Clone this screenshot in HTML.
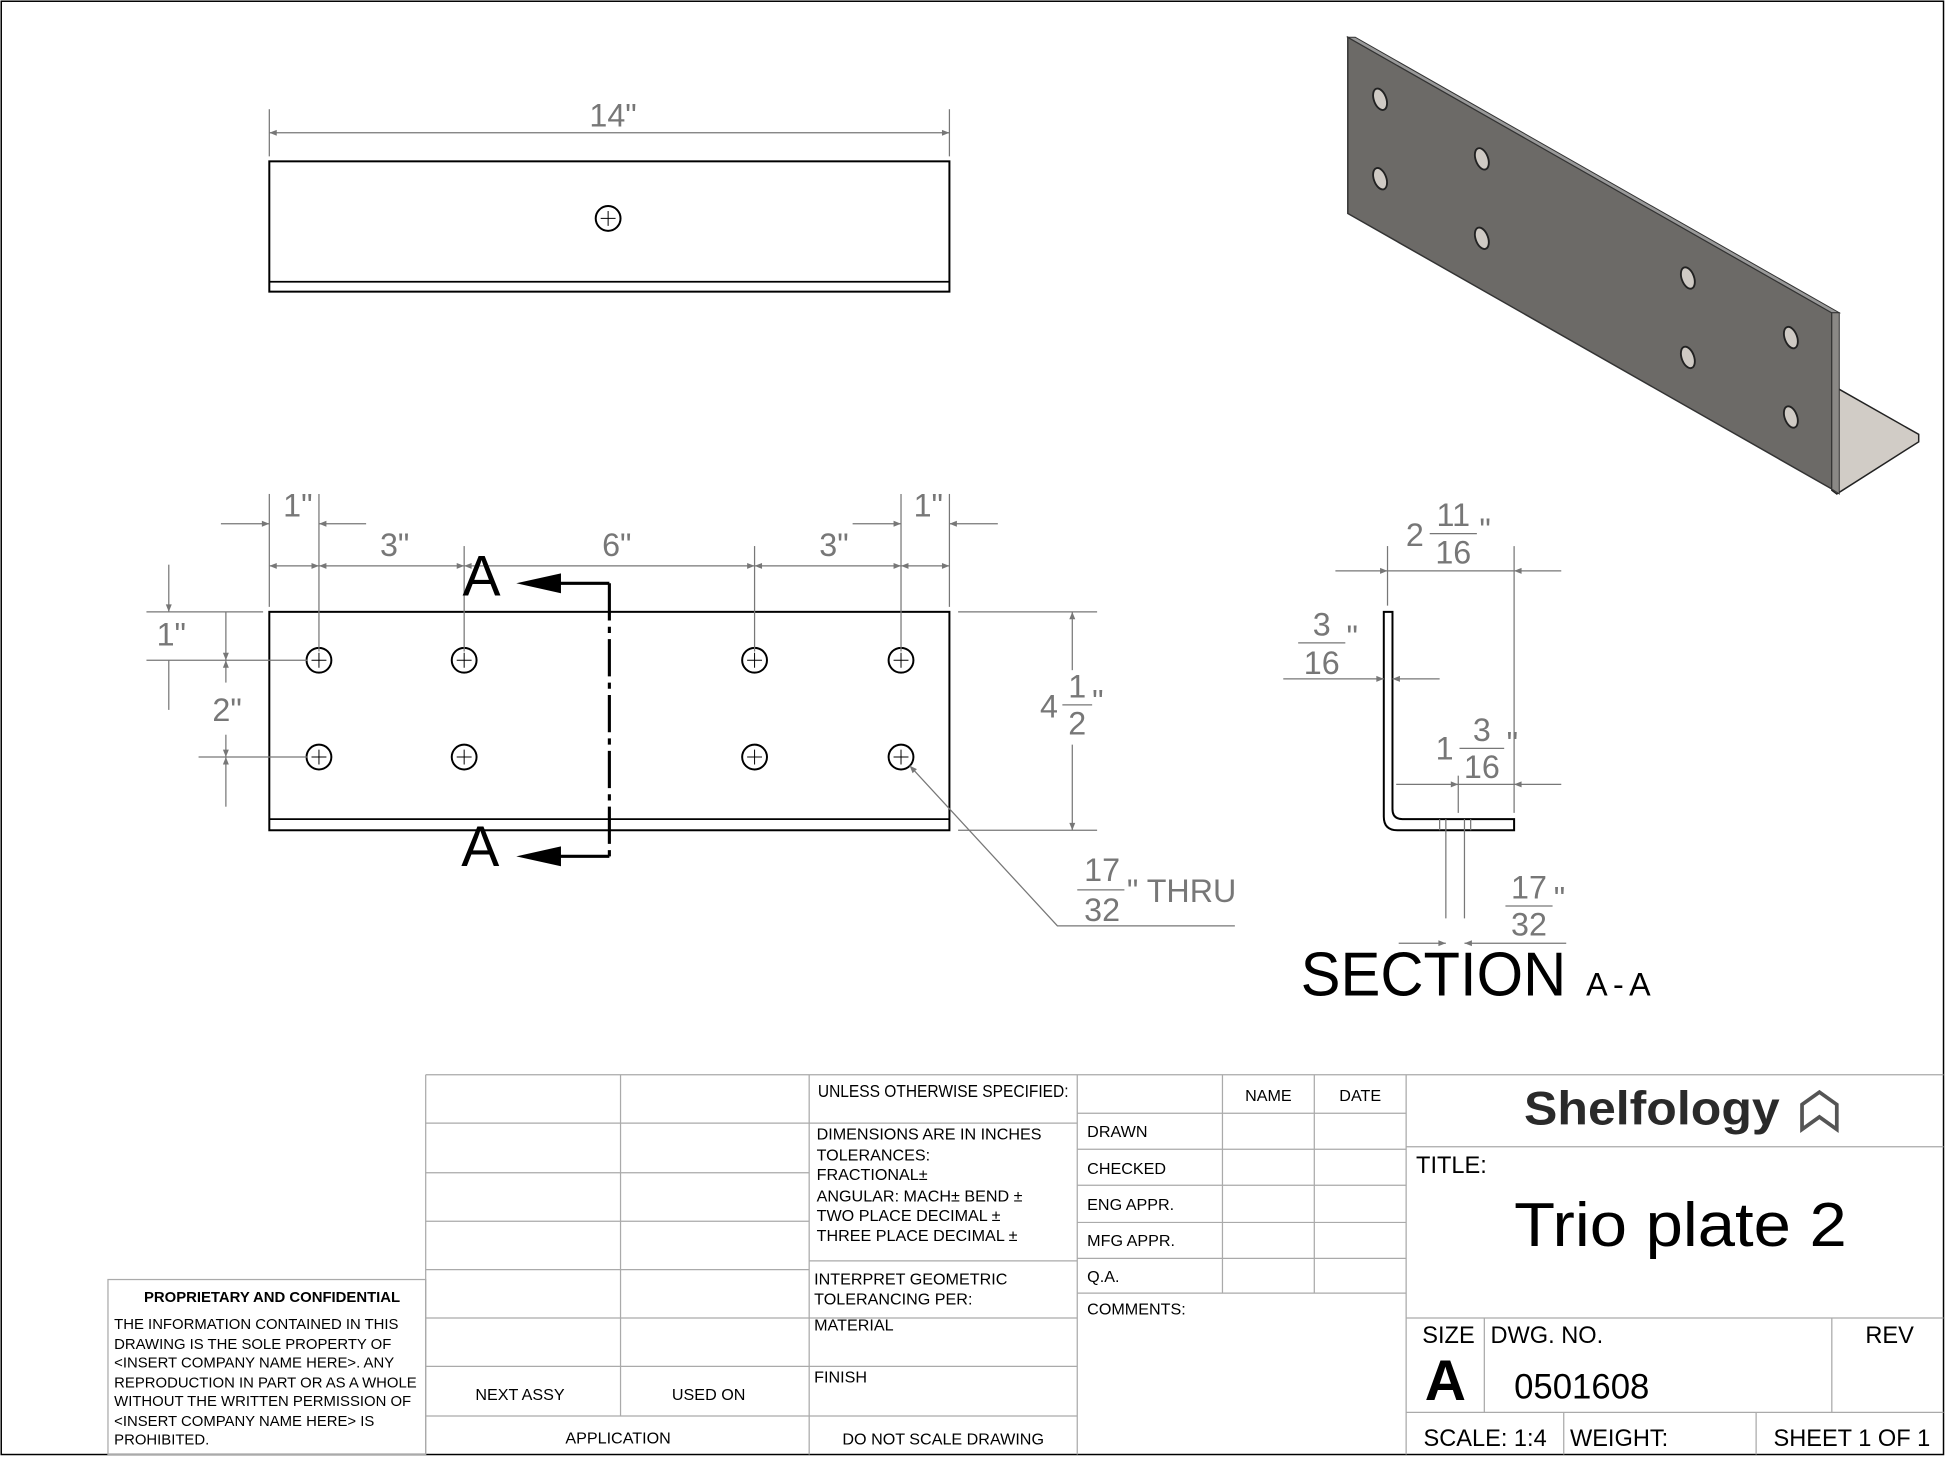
<!DOCTYPE html>
<html><head><style>html,body{margin:0;padding:0;background:#fff}svg{display:block}</style></head><body>
<svg width="1946" height="1457" viewBox="0 0 1568 1174" preserveAspectRatio="none" xmlns="http://www.w3.org/2000/svg" font-family="Liberation Sans, sans-serif">
<defs>
<marker id="a" viewBox="0 0 10 10" refX="10" refY="5" markerWidth="12" markerHeight="6" markerUnits="userSpaceOnUse" orient="auto-start-reverse"><path d="M0,1 L10,5 L0,9z" fill="#777"/></marker>
<g id="h"><circle r="10" fill="none" stroke="#000" stroke-width="1.6"/><path d="M-6,0H6M0,-6V6" stroke="#000" stroke-width="0.8"/></g>
</defs>
<rect x="1" y="1" width="1565" height="1171" fill="none" stroke="#000" stroke-width="1.2"/>
<g fill="#777" font-size="26" stroke="none">
<rect x="217" y="130" width="548" height="105" fill="none" stroke="#000" stroke-width="1.6"/>
<line x1="217" y1="227" x2="765" y2="227" stroke="#000" stroke-width="1.4"/>
<use href="#h" x="490" y="176"/>
<g stroke="#777" stroke-width="1"><line x1="217" y1="88" x2="217" y2="126"/><line x1="765" y1="88" x2="765" y2="126"/>
<line x1="217" y1="107" x2="765" y2="107" marker-start="url(#a)" marker-end="url(#a)"/></g>
<text x="494" y="102" text-anchor="middle">14"</text>
<rect x="217" y="493" width="548" height="176" fill="none" stroke="#000" stroke-width="1.6"/>
<line x1="217" y1="660" x2="765" y2="660" stroke="#000" stroke-width="1.4"/>
<use href="#h" x="257" y="532"/><use href="#h" x="374" y="532"/><use href="#h" x="608" y="532"/><use href="#h" x="726" y="532"/>
<use href="#h" x="257" y="610"/><use href="#h" x="374" y="610"/><use href="#h" x="608" y="610"/><use href="#h" x="726" y="610"/>
<g stroke="#777" stroke-width="1" fill="none">
<line x1="217" y1="398" x2="217" y2="489"/><line x1="257" y1="398" x2="257" y2="525"/><line x1="374" y1="440" x2="374" y2="525"/>
<line x1="608" y1="440" x2="608" y2="525"/><line x1="726" y1="398" x2="726" y2="525"/><line x1="765" y1="398" x2="765" y2="489"/>
<line x1="217" y1="456" x2="257" y2="456" marker-start="url(#a)" marker-end="url(#a)"/>
<line x1="257" y1="456" x2="374" y2="456" marker-start="url(#a)" marker-end="url(#a)"/>
<line x1="374" y1="456" x2="608" y2="456" marker-start="url(#a)" marker-end="url(#a)"/>
<line x1="608" y1="456" x2="726" y2="456" marker-start="url(#a)" marker-end="url(#a)"/>
<line x1="726" y1="456" x2="765" y2="456" marker-start="url(#a)" marker-end="url(#a)"/>
<line x1="178" y1="422" x2="217" y2="422" marker-end="url(#a)"/><line x1="295" y1="422" x2="257" y2="422" marker-end="url(#a)"/>
<line x1="687" y1="422" x2="726" y2="422" marker-end="url(#a)"/><line x1="804" y1="422" x2="765" y2="422" marker-end="url(#a)"/>
<line x1="118" y1="493" x2="212" y2="493"/><line x1="118" y1="532" x2="248" y2="532"/><line x1="160" y1="610" x2="248" y2="610"/>
<line x1="136" y1="455" x2="136" y2="493" marker-end="url(#a)"/><line x1="136" y1="532" x2="136" y2="572"/>
<line x1="182" y1="493" x2="182" y2="532" marker-end="url(#a)"/>
<line x1="182" y1="532" x2="182" y2="550" marker-start="url(#a)"/><line x1="182" y1="592" x2="182" y2="610" marker-end="url(#a)"/>
<line x1="182" y1="610" x2="182" y2="650" marker-start="url(#a)"/>
<line x1="772" y1="493" x2="884" y2="493"/><line x1="772" y1="669" x2="884" y2="669"/>
<line x1="864" y1="540" x2="864" y2="493" marker-end="url(#a)"/><line x1="864" y1="600" x2="864" y2="669" marker-end="url(#a)"/>
<polyline points="995,746 852,746 733,617" marker-end="url(#a)"/>
</g>
<text x="240" y="416" text-anchor="middle">1"</text><text x="318" y="448" text-anchor="middle">3"</text>
<text x="497" y="448" text-anchor="middle">6"</text><text x="672" y="448" text-anchor="middle">3"</text>
<text x="748" y="416" text-anchor="middle">1"</text><text x="138" y="520" text-anchor="middle">1"</text>
<text x="183" y="581" text-anchor="middle">2"</text>
<text x="838" y="578">4</text><text x="868" y="562" text-anchor="middle">1</text><line x1="856" y1="568" x2="880" y2="568" stroke="#777"/><text x="868" y="592" text-anchor="middle">2</text><text x="880" y="574">"</text>
<text x="888" y="710" text-anchor="middle">17</text><line x1="868" y1="717" x2="906" y2="717" stroke="#777"/><text x="888" y="742" text-anchor="middle">32</text><text x="908" y="727">" THRU</text>
<path d="M491,470 V690" stroke="#000" stroke-width="2.5" stroke-dasharray="30,5,5,5" fill="none"/>
<path d="M491,470 H450 M491,690 H450" stroke="#000" stroke-width="2.5"/>
<path d="M416,470 L452,462 L452,478z M416,690 L452,682 L452,698z" fill="#000"/>
<text x="388" y="480" font-size="46" fill="#000" text-anchor="middle">A</text>
<text x="387" y="698" font-size="46" fill="#000" text-anchor="middle">A</text>
<path d="M1115,493 H1122 V652 Q1122,660 1130,660 H1220 V669 H1126 Q1115,669 1115,658 Z" fill="none" stroke="#000" stroke-width="1.6"/>
<g stroke="#777" stroke-width="1" fill="none">
<line x1="1160" y1="660" x2="1160" y2="669"/><line x1="1185" y1="660" x2="1185" y2="669"/>
<line x1="1165" y1="660" x2="1165" y2="740"/><line x1="1180" y1="660" x2="1180" y2="740"/>
<line x1="1220" y1="440" x2="1220" y2="655"/><line x1="1118" y1="440" x2="1118" y2="488"/>
<line x1="1076" y1="460" x2="1118" y2="460" marker-end="url(#a)"/><line x1="1258" y1="460" x2="1220" y2="460" marker-end="url(#a)"/>
<line x1="1118" y1="460" x2="1220" y2="460"/>
<line x1="1034" y1="547" x2="1115" y2="547" marker-end="url(#a)"/><line x1="1160" y1="547" x2="1122" y2="547" marker-end="url(#a)"/>
<line x1="1125" y1="632" x2="1175" y2="632" marker-end="url(#a)"/><line x1="1258" y1="632" x2="1220" y2="632" marker-end="url(#a)"/>
<line x1="1175" y1="632" x2="1220" y2="632"/><line x1="1175" y1="625" x2="1175" y2="655"/>
<line x1="1127" y1="760" x2="1165" y2="760" marker-end="url(#a)"/><line x1="1262" y1="760" x2="1180" y2="760" marker-end="url(#a)"/>
</g>
<text x="1140" y="440" text-anchor="middle">2</text><text x="1171" y="424" text-anchor="middle">11</text><line x1="1152" y1="430" x2="1190" y2="430" stroke="#777"/><text x="1171" y="454" text-anchor="middle">16</text><text x="1192" y="436">"</text>
<text x="1065" y="512" text-anchor="middle">3</text><line x1="1046" y1="518" x2="1084" y2="518" stroke="#777"/><text x="1065" y="543" text-anchor="middle">16</text><text x="1085" y="522">"</text>
<text x="1164" y="612" text-anchor="middle">1</text><text x="1194" y="597" text-anchor="middle">3</text><line x1="1176" y1="603" x2="1212" y2="603" stroke="#777"/><text x="1194" y="627" text-anchor="middle">16</text><text x="1214" y="608">"</text>
<text x="1232" y="724" text-anchor="middle">17</text><line x1="1213" y1="730" x2="1251" y2="730" stroke="#777"/><text x="1232" y="754" text-anchor="middle">32</text><text x="1252" y="733">"</text>
<text x="1048" y="802" font-size="50" fill="#000" textLength="214" lengthAdjust="spacingAndGlyphs">SECTION</text><text x="1278" y="802" font-size="26" fill="#000" textLength="52">A-A</text>
<!-- iso -->
<polygon points="1479,312 1546,350 1546,356 1480,398 1476,395" fill="#d1ccc6" stroke="#222" stroke-width="1.2"/>
<polygon points="1086,30 1476,252 1476,394 1086,172" fill="#6c6a67" stroke="#333" stroke-width="1.2"/>
<polygon points="1086,30 1092,30 1482,252 1476,252" fill="#999" stroke="#333" stroke-width="0.8"/>
<polygon points="1476,252 1482,252 1482,398 1476,394" fill="#8a8885" stroke="#333" stroke-width="0.8"/>
<g fill="#cfcac4" stroke="#222" stroke-width="1.5">
<ellipse cx="1112" cy="80" rx="5" ry="9" transform="rotate(-20 1112 80)"/><ellipse cx="1112" cy="144" rx="5" ry="9" transform="rotate(-20 1112 144)"/>
<ellipse cx="1194" cy="128" rx="5" ry="9" transform="rotate(-20 1194 128)"/><ellipse cx="1194" cy="192" rx="5" ry="9" transform="rotate(-20 1194 192)"/>
<ellipse cx="1360" cy="224" rx="5" ry="9" transform="rotate(-20 1360 224)"/><ellipse cx="1360" cy="288" rx="5" ry="9" transform="rotate(-20 1360 288)"/>
<ellipse cx="1443" cy="272" rx="5" ry="9" transform="rotate(-20 1443 272)"/><ellipse cx="1443" cy="336" rx="5" ry="9" transform="rotate(-20 1443 336)"/>
</g>
</g>
<g stroke="#aaa" stroke-width="1" fill="none">
<path d="M343,866 H1566 M343,866 V1172 M500,866 V1141 M652,866 V1172 M868,866 V1172 M1133,866 V1172"/>
<path d="M343,905 H652 M343,945 H652 M343,984 H652 M343,1023 H652 M343,1062 H652 M343,1101 H652 M343,1141 H868"/>
<path d="M652,905 H868 M652,1016 H868 M652,1062 H868 M652,1101 H868"/>
<path d="M985,866 V1042 M1059,866 V1042 M868,897 H1133 M868,926 H1133 M868,955 H1133 M868,985 H1133 M868,1014 H1133 M868,1042 H1133"/>
<path d="M1133,924 H1566 M1133,1062 H1566 M1133,1138 H1566 M1196,1062 V1138 M1476,1062 V1138 M1260,1138 V1172 M1415,1138 V1172"/>
<rect x="87" y="1031" width="256" height="141"/>
</g>
<g fill="#000" font-size="13">
<text x="116" y="1049" font-weight="bold" font-size="12">PROPRIETARY AND CONFIDENTIAL</text>
<text x="92" y="1071" font-size="12">THE INFORMATION CONTAINED IN THIS</text>
<text x="92" y="1087" font-size="12">DRAWING IS THE SOLE PROPERTY OF</text>
<text x="92" y="1102" font-size="12">&lt;INSERT COMPANY NAME HERE&gt;.  ANY</text>
<text x="92" y="1118" font-size="12">REPRODUCTION IN PART OR AS A WHOLE</text>
<text x="92" y="1133" font-size="12">WITHOUT THE WRITTEN PERMISSION OF</text>
<text x="92" y="1149" font-size="12">&lt;INSERT COMPANY NAME HERE&gt; IS</text>
<text x="92" y="1164" font-size="12">PROHIBITED.</text>
<text x="419" y="1128" text-anchor="middle">NEXT ASSY</text><text x="571" y="1128" text-anchor="middle">USED ON</text>
<text x="498" y="1163" text-anchor="middle">APPLICATION</text><text x="760" y="1164" text-anchor="middle">DO NOT SCALE DRAWING</text>
<text x="659" y="884" font-size="14" textLength="202" lengthAdjust="spacingAndGlyphs">UNLESS OTHERWISE SPECIFIED:</text>
<text x="658" y="918">DIMENSIONS ARE IN INCHES</text><text x="658" y="935">TOLERANCES:</text>
<text x="658" y="951">FRACTIONAL±</text><text x="658" y="968">ANGULAR: MACH±     BEND ±</text>
<text x="658" y="984">TWO PLACE DECIMAL    ±</text><text x="658" y="1000">THREE PLACE DECIMAL  ±</text>
<text x="656" y="1035">INTERPRET GEOMETRIC</text><text x="656" y="1051">TOLERANCING PER:</text>
<text x="656" y="1072">MATERIAL</text><text x="656" y="1114">FINISH</text>
<text x="1022" y="887" text-anchor="middle">NAME</text><text x="1096" y="887" text-anchor="middle">DATE</text>
<text x="876" y="916">DRAWN</text><text x="876" y="946">CHECKED</text><text x="876" y="975">ENG APPR.</text>
<text x="876" y="1004">MFG APPR.</text><text x="876" y="1033">Q.A.</text><text x="876" y="1059">COMMENTS:</text>
<text x="1228" y="906" font-size="38" font-weight="bold" fill="#2a2a2a" textLength="206" lengthAdjust="spacingAndGlyphs">Shelfology</text>
<path d="M1452,890 L1466,880 L1480,890 V910 L1466,900 L1452,910z" fill="none" stroke="#555" stroke-width="3"/>
<text x="1141" y="945" font-size="19">TITLE:</text>
<text x="1220" y="1004" font-size="50" textLength="268" lengthAdjust="spacingAndGlyphs">Trio plate 2</text>
<text x="1146" y="1082" font-size="19">SIZE</text><text x="1201" y="1082" font-size="19">DWG.  NO.</text><text x="1503" y="1082" font-size="19">REV</text>
<text x="1148" y="1128" font-size="46" font-weight="bold">A</text><text x="1220" y="1127" font-size="28">0501608</text>
<text x="1147" y="1165" font-size="19">SCALE: 1:4</text><text x="1265" y="1165" font-size="19">WEIGHT:</text><text x="1429" y="1165" font-size="19">SHEET 1 OF 1</text>
</g>
</svg>
</body></html>
